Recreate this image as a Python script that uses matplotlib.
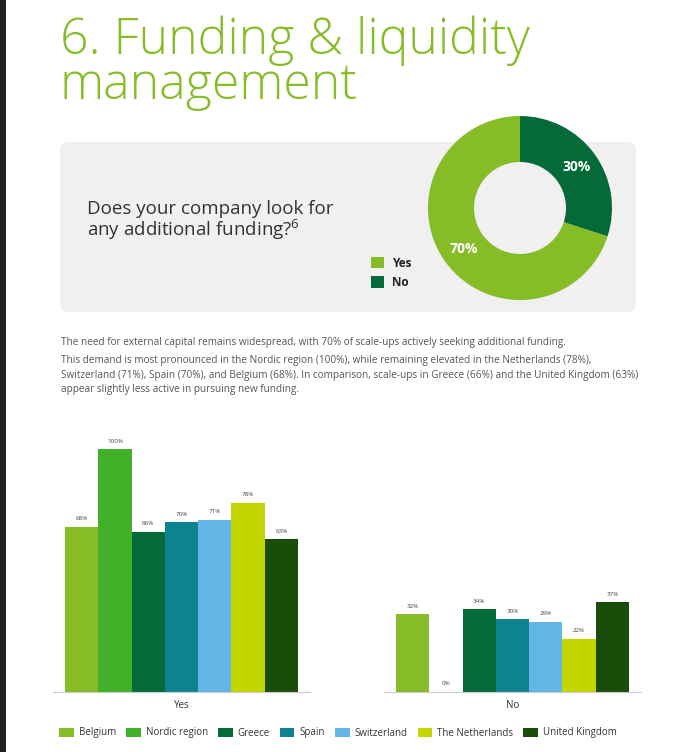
import matplotlib
matplotlib.use("Agg")
import matplotlib.pyplot as plt
from matplotlib.patches import FancyBboxPatch, Rectangle

plt.rcParams['font.family'] = ['Open Sans', 'DejaVu Sans']
plt.rcParams['mathtext.default'] = 'regular'

# data
countries = ["Belgium", "Nordic region", "Greece", "Spain", "Switzerland",
             "The Netherlands", "United Kingdom"]
yes_pct = [68, 100, 66, 70, 71, 78, 63]
no_pct = [32, 0, 34, 30, 29, 22, 37]
country_colors = ["#86BC25", "#43B02A", "#046A38", "#0D8390", "#62B5E5",
                  "#C4D600", "#1A4D0A"]

donut_labels = ["No", "Yes"]
donut_values = [30, 70]
donut_colors = ["#046A38", "#86BC25"]

title = "6. Funding & liquidity\nmanagement"
question = "Does your company look for\nany additional funding?$^{6}$"
para1 = ("The need for external capital remains widespread, with 70% of "
         "scale-ups actively seeking additional funding.")
para2 = ("This demand is most pronounced in the Nordic region (100%), while "
         "remaining elevated in the Netherlands (78%),\n"
         "Switzerland (71%), Spain (70%), and Belgium (68%). In comparison, "
         "scale-ups in Greece (66%) and the United Kingdom (63%)\n"
         "appear slightly less active in pursuing new funding.")

W, H = 687, 752


def px_box(x0, y0, x1, y1):
    return [x0 / W, 1 - y1 / H, (x1 - x0) / W, (y1 - y0) / H]


fig = plt.figure(figsize=(W / 100, H / 100), dpi=100)
fig.patch.set_facecolor("white")

# dark strip on the left edge
fig.patches.append(Rectangle((0, 0), 6 / W, 1, transform=fig.transFigure,
                             facecolor="#222222", edgecolor="none", zorder=-2))

# title
fig.text(60 / W, 1 - 15 / H, title, fontsize=36, color="#86BC25",
         fontweight="light", va="top", ha="left", linespacing=0.88)

# grey panel
fig.patches.append(FancyBboxPatch(
    (60 / W, 1 - 312 / H), 576 / W, 170 / H,
    boxstyle="round,pad=0,rounding_size=0.012", transform=fig.transFigure,
    facecolor="#F0F0F0", edgecolor="none", zorder=-1))

fig.text(87 / W, 1 - 200 / H, question, fontsize=13.5, color="#333333",
         va="top", ha="left", linespacing=1.0)

# donut
ax_pie = fig.add_axes(px_box(428, 116, 612, 300))
wedges, _, autotexts = ax_pie.pie(
    donut_values, colors=donut_colors, startangle=90, counterclock=False,
    autopct=lambda p: f"{p:.0f}%", pctdistance=0.76,
    wedgeprops=dict(width=0.5, edgecolor="none"))
for t in autotexts:
    t.set_color("white")
    t.set_fontweight("bold")
    t.set_fontsize(10)
ax_pie.set_xlim(-1, 1)
ax_pie.set_ylim(-1, 1)
ax_pie.set_aspect("equal")

fig.legend([wedges[1], wedges[0]], ["Yes", "No"], loc="upper left",
           bbox_to_anchor=(360 / W, 1 - 246 / H), frameon=False,
           prop=dict(size=8.5, weight="bold"), handlelength=1.1,
           handleheight=1.1, handletextpad=0.7, labelspacing=0.55,
           labelcolor="#222222")

# paragraph text
fig.text(61 / W, 1 - 343 / H, para1, fontsize=7.2, color="#555555",
         va="center", ha="left")
fig.text(61 / W, 1 - 355 / H, para2, fontsize=7.2, color="#555555",
         va="top", ha="left", linespacing=1.45)

# bar charts
x = list(range(len(countries)))
ax_yes = fig.add_axes(px_box(53, 425, 310, 692))
ax_no = fig.add_axes(px_box(384, 425, 641, 692))
bar_sets = []
for ax, vals, name in [(ax_yes, yes_pct, "Yes"), (ax_no, no_pct, "No")]:
    bars = ax.bar(x, vals, width=1.0, color=country_colors)
    bar_sets.append(bars)
    ax.bar_label(bars, labels=[f"{v}%" for v in vals], padding=4,
                 fontsize=4.5, color="#444444")
    ax.set_ylim(0, 110)
    ax.set_xlim(-0.86, 6.86)
    ax.set_yticks([])
    ax.set_xticks([3], [name])
    ax.tick_params(axis="x", length=0, pad=6, labelsize=7,
                   labelcolor="#333333")
    for s in ["top", "left", "right"]:
        ax.spines[s].set_visible(False)
    ax.spines["bottom"].set_color("#CCCCCC")
    ax.spines["bottom"].set_linewidth(0.8)
    ax.patch.set_alpha(0)

fig.legend(bar_sets[0], countries, loc="center",
           bbox_to_anchor=(338 / W, 1 - 733 / H), ncol=7, frameon=False,
           fontsize=7, handlelength=1.5, handleheight=1.0,
           handletextpad=0.5, columnspacing=1.05, labelcolor="#333333")

fig.savefig("out.png", dpi=100)
